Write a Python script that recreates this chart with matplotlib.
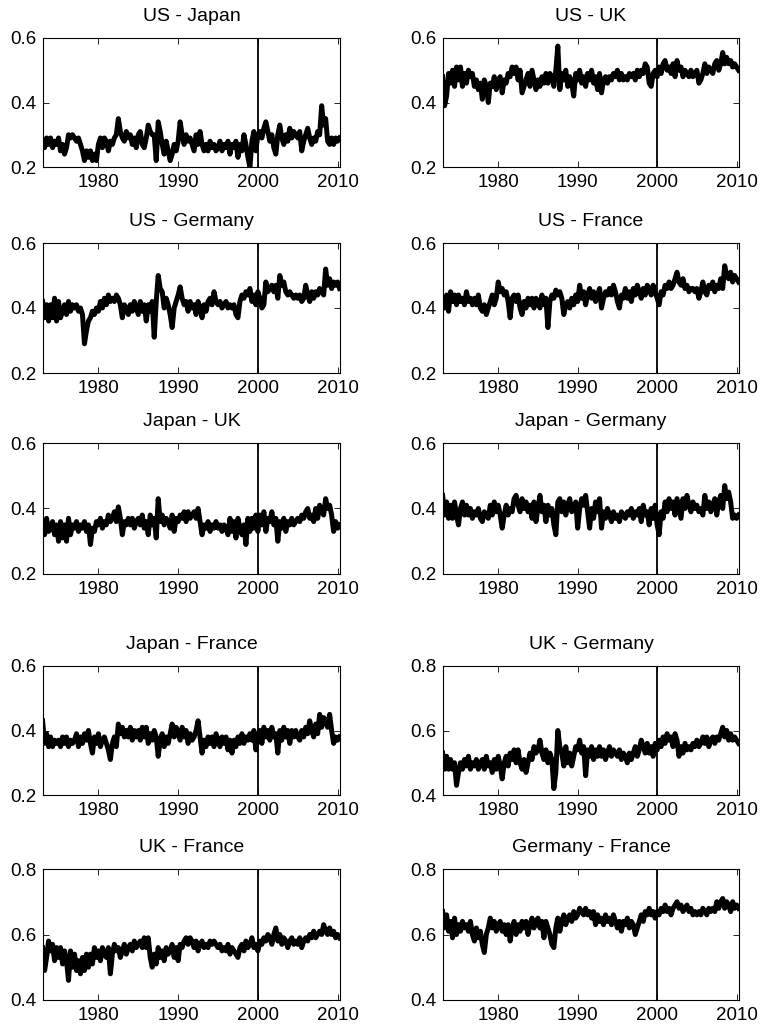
import numpy as np
import matplotlib.pyplot as plt

plt.rcParams['font.family'] = ['Liberation Sans', 'DejaVu Sans']

# quarterly correlations, 1973Q1 - 2010Q2 (four values per year)
us_japan = [.28, .26, .29, .27,  .29, .26, .28, .27,  .29, .25, .27, .24,  .26, .30, .29, .30,
            .29, .28, .29, .27,  .25, .22, .25, .23,  .25, .22, .24, .22,  .27, .29, .26, .29,
            .28, .25, .28, .27,  .29, .30, .35, .31,  .29, .28, .31, .29,  .30, .27, .29, .26,
            .30, .31, .27, .26,  .29, .33, .31, .30,  .30, .22, .34, .31,  .27, .24, .28, .25,
            .22, .24, .27, .25,  .28, .34, .30, .27,  .30, .28, .29, .27,  .25, .30, .27, .31,
            .27, .25, .27, .25,  .28, .26, .27, .25,  .26, .28, .25, .27,  .26, .28, .24, .27,
            .26, .28, .23, .27,  .25, .30, .27, .23,  .20, .28, .31, .25,  .30, .31, .29, .32,
            .34, .31, .28, .30,  .26, .24, .30, .33,  .29, .27, .30, .28,  .32, .29, .31, .30,
            .29, .31, .25, .28,  .30, .32, .29, .27,  .29, .28, .31, .30,  .39, .33, .35, .28,
            .27, .29, .27, .29,  .28, .29]

us_uk = [.48, .39, .42, .49,  .46, .50, .45, .51,  .47, .51, .45, .49,  .46, .50, .48, .49,
         .45, .47, .44, .46,  .41, .47, .45, .40,  .46, .45, .48, .44,  .47, .48, .43, .47,
         .46, .49, .48, .51,  .49, .51, .47, .50,  .43, .45, .47, .49,  .45, .50, .47, .44,
         .47, .45, .48, .46,  .49, .46, .49, .48,  .45, .50, .575, .44,  .49, .47, .50, .45,
         .48, .46, .42, .49,  .47, .50, .46, .48,  .45, .49, .47, .50,  .46, .48, .44, .49,
         .43, .47, .48, .46,  .48, .47, .49, .48,  .50, .47, .49, .47,  .48, .47, .49, .48,
         .49, .47, .50, .48,  .50, .49, .52, .51,  .46, .45, .49, .50,  .48, .51, .49, .52,
         .53, .50, .51, .49,  .52, .48, .53, .50,  .51, .48, .50, .49,  .48, .50, .48, .49,
         .50, .46, .47, .49,  .52, .49, .51, .50,  .49, .52, .53, .50,  .52, .555, .52, .54,
         .52, .53, .51, .52,  .51, .50]

us_germany = [.42, .37, .41, .36,  .41, .37, .43, .36,  .42, .37, .39, .41,  .38, .42, .39, .41,
              .40, .41, .39, .40,  .38, .29, .33, .36,  .37, .39, .38, .40,  .39, .42, .40, .43,
              .41, .44, .42, .43,  .42, .44, .43, .41,  .37, .41, .40, .38,  .41, .39, .42, .40,
              .38, .42, .39, .41,  .36, .41, .39, .42,  .31, .42, .50, .46,  .45, .40, .43, .41,
              .38, .34, .40, .42,  .44, .465, .43, .41,  .42, .39, .42, .40,  .41, .38, .42, .40,
              .37, .41, .39, .42,  .43, .41, .45, .42,  .41, .42, .40, .41,  .42, .40, .41, .40,
              .41, .38, .37, .42,  .44, .43, .45, .44,  .46, .42, .44, .41,  .45, .43, .40, .41,
              .48, .45, .46, .47,  .45, .47, .43, .50,  .47, .48, .45, .44,  .45, .44, .43, .44,
              .43, .44, .42, .43,  .47, .44, .42, .45,  .43, .45, .44, .46,  .45, .44, .52, .47,
              .49, .46, .48, .47,  .48, .46]

us_france = [.43, .40, .44, .39,  .45, .42, .44, .41,  .44, .42, .43, .41,  .45, .42, .43, .41,
             .43, .41, .44, .40,  .39, .41, .38, .40,  .42, .44, .41, .43,  .48, .45, .46, .44,
             .45, .42, .37, .43,  .44, .42, .44, .40,  .38, .42, .40, .43,  .41, .43, .40, .43,
             .42, .40, .44, .41,  .43, .34, .42, .44,  .43, .455, .44, .45,  .43, .38, .41, .42,
             .40, .43, .41, .44,  .42, .47, .43, .45,  .41, .44, .46, .43,  .45, .42, .44, .46,
             .40, .43, .45, .44,  .46, .44, .47, .45,  .42, .40, .44, .43,  .46, .43, .45, .42,
             .46, .44, .47, .45,  .43, .46, .44, .47,  .46, .44, .47, .45,  .43, .41, .45, .44,
             .47, .46, .48, .46,  .47, .49, .51, .48,  .47, .49, .46, .47,  .45, .46, .46, .45,
             .46, .43, .45, .48,  .45, .44, .47, .46,  .48, .45, .47, .46,  .49, .46, .53, .50,
             .49, .51, .48, .50,  .49, .48]

japan_uk = [.35, .32, .37, .33,  .34, .36, .32, .35,  .30, .36, .31, .35,  .30, .37, .32, .35,
            .34, .36, .33, .35,  .34, .36, .33, .35,  .29, .34, .33, .36,  .35, .37, .34, .36,
            .35, .38, .36, .37,  .39, .36, .405, .37,  .32, .36, .35, .37,  .35, .37, .34, .36,
            .37, .35, .38, .34,  .36, .32, .38, .35,  .37, .31, .43, .36,  .38, .35, .37, .36,
            .34, .38, .33, .37,  .36, .38, .37, .39,  .36, .39, .37, .38,  .39, .37, .40, .36,
            .32, .35, .34, .36,  .33, .35, .34, .36,  .34, .35, .33, .35,  .34, .32, .37, .33,
            .36, .31, .37, .34,  .32, .35, .29, .37,  .33, .37, .34, .38,  .33, .38, .35, .39,
            .33, .37, .36, .39,  .35, .37, .30, .36,  .34, .37, .33, .36,  .35, .37, .35, .36,
            .37, .36, .38, .37,  .39, .40, .37, .38,  .36, .40, .37, .41,  .39, .38, .43, .40,
            .41, .38, .33, .36,  .34, .35]

japan_germany = [.44, .38, .42, .37,  .41, .37, .42, .38,  .35, .40, .42, .38,  .41, .38, .40, .37,
                 .39, .38, .40, .37,  .36, .39, .38, .37,  .41, .38, .42, .39,  .41, .38, .34, .38,
                 .41, .38, .40, .39,  .43, .44, .41, .39,  .43, .40, .42, .39,  .41, .37, .42, .36,
                 .40, .44, .39, .41,  .36, .41, .38, .40,  .35, .32, .42, .43,  .39, .42, .38, .41,
                 .43, .39, .40, .42,  .34, .40, .43, .41,  .44, .39, .34, .40,  .37, .42, .39, .43,
                 .34, .39, .37, .40,  .38, .36, .39, .37,  .38, .36, .39, .38,  .37, .39, .38, .40,
                 .37, .39, .38, .40,  .36, .41, .38, .39,  .35, .40, .37, .41,  .35, .32, .39, .37,
                 .42, .39, .43, .40,  .42, .38, .43, .40,  .37, .43, .40, .44,  .41, .39, .42, .40,
                 .41, .39, .40, .38,  .44, .40, .42, .39,  .41, .43, .38, .42,  .44, .40, .47, .43,
                 .45, .42, .37, .38,  .37, .38]

japan_france = [.43, .36, .39, .35,  .38, .35, .37, .36,  .37, .35, .38, .36,  .38, .35, .37, .36,
                .37, .39, .35, .38,  .36, .39, .37, .40,  .36, .33, .38, .36,  .39, .35, .37, .38,
                .36, .34, .31, .36,  .38, .35, .42, .39,  .41, .38, .40, .38,  .41, .37, .40, .38,
                .40, .37, .41, .38,  .41, .36, .39, .37,  .40, .38, .32, .37,  .39, .35, .38, .36,
                .39, .42, .38, .41,  .39, .37, .41, .38,  .40, .36, .39, .37,  .38, .40, .43, .38,
                .33, .37, .35, .38,  .36, .38, .35, .39,  .37, .35, .38, .36,  .38, .34, .37, .33,
                .37, .35, .38, .36,  .39, .36, .38, .37,  .39, .37, .40, .34,  .38, .40, .36, .41,
                .38, .40, .37, .41,  .38, .39, .33, .40,  .37, .41, .38, .40,  .36, .40, .38, .40,
                .38, .37, .40, .38,  .41, .39, .43, .40,  .38, .42, .39, .45,  .41, .44, .43, .41,
                .45, .40, .36, .38,  .37, .38]

uk_germany = [.53, .48, .52, .48,  .51, .48, .50, .43,  .47, .50, .48, .51,  .49, .52, .48, .50,
              .49, .51, .48, .50,  .51, .48, .52, .49,  .50, .47, .51, .48,  .52, .49, .45, .50,
              .52, .49, .53, .51,  .54, .50, .54, .50,  .48, .51, .47, .50,  .53, .51, .55, .53,
              .54, .57, .53, .51,  .54, .50, .53, .51,  .42, .47, .60, .55,  .53, .49, .55, .50,
              .53, .49, .52, .55,  .54, .57, .53, .55,  .46, .54, .52, .55,  .51, .54, .52, .55,
              .52, .54, .51, .53,  .55, .52, .54, .53,  .52, .54, .51, .53,  .52, .50, .53, .51,
              .53, .55, .52, .54,  .57, .55, .53, .56,  .53, .55, .52, .56,  .54, .57, .55, .58,
              .56, .59, .57, .58,  .55, .59, .57, .52,  .55, .53, .56, .54,  .55, .54, .56, .55,
              .57, .55, .56, .58,  .56, .58, .55, .57,  .58, .56, .58, .57,  .59, .61, .58, .60,
              .57, .59, .57, .58,  .57, .56]

uk_france = [.56, .49, .53, .58,  .55, .57, .52, .56,  .53, .56, .51, .55,  .52, .46, .55, .50,
             .54, .49, .52, .48,  .53, .49, .54, .50,  .54, .51, .56, .53,  .55, .52, .56, .54,
             .53, .56, .48, .54,  .57, .55, .56, .53,  .55, .57, .54, .56,  .57, .55, .58, .56,
             .57, .58, .56, .59,  .56, .59, .53, .50,  .54, .51, .56, .53,  .55, .52, .56, .54,
             .55, .57, .53, .56,  .52, .57, .56, .58,  .59, .57, .59, .58,  .56, .58, .55, .57,
             .58, .56, .57, .56,  .58, .57, .58, .57,  .56, .57, .55, .56,  .55, .57, .54, .56,
             .55, .54, .53, .56,  .57, .55, .58, .56,  .57, .59, .56, .57,  .55, .58, .57, .59,
             .58, .60, .59, .57,  .60, .62, .58, .60,  .57, .59, .58, .56,  .58, .59, .57, .58,
             .57, .59, .56, .58,  .59, .58, .60, .59,  .61, .59, .60, .61,  .60, .63, .61, .60,
             .62, .60, .61, .59,  .60, .59]

germany_france = [.67, .62, .66, .61,  .64, .59, .65, .60,  .63, .61, .64, .62,  .63, .61, .64, .60,
                  .58, .62, .59, .61,  .57, .545, .60, .62,  .65, .62, .64, .61,  .63, .64, .61, .63,
                  .60, .63, .58, .62,  .64, .60, .63, .61,  .64, .62, .64, .60,  .63, .65, .62, .64,
                  .65, .62, .64, .59,  .64, .62, .60, .57,  .56, .62, .65, .61,  .64, .66, .63, .65,
                  .66, .64, .67, .65,  .66, .68, .67, .66,  .68, .66, .67, .65,  .67, .63, .66, .64,
                  .65, .63, .66, .64,  .65, .63, .66, .64,  .62, .64, .61, .64,  .63, .65, .62, .64,
                  .63, .60, .62, .64,  .66, .64, .67, .66,  .68, .66, .67, .65,  .67, .66, .68, .67,
                  .69, .67, .68, .66,  .68, .69, .70, .68,  .69, .67, .68, .69,  .67, .68, .66, .67,
                  .66, .67, .66, .68,  .67, .66, .68, .67,  .68, .67, .70, .68,  .70, .71, .68, .70,
                  .69, .67, .70, .68,  .69, .68]

titles = ['US - Japan', 'US - UK', 'US - Germany', 'US - France', 'Japan - UK',
          'Japan - Germany', 'Japan - France', 'UK - Germany', 'UK - France', 'Germany - France']
series = [us_japan, us_uk, us_germany, us_france, japan_uk,
          japan_germany, japan_france, uk_germany, uk_france, germany_france]
ylims = [(0.2, 0.6)] * 7 + [(0.4, 0.8)] * 3
xticks = [1980, 1990, 2000, 2010]

fig = plt.figure(figsize=(7.6, 10.29), dpi=100)
W, H = 760., 1029.

# axes boxes in pixels (left, top, right, bottom)
cols = [(43, 340), (443, 739)]
rows = [(38, 167), (243, 373), (443, 574), (666, 795), (869, 1000)]

for k in range(10):
    r, c = k // 2, k % 2
    x0, x1 = cols[c]
    y0, y1 = rows[r]
    ax = fig.add_axes([x0 / W, 1 - y1 / H, (x1 - x0) / W, (y1 - y0) / H])
    vals = np.array(series[k])
    t = 1973 + np.arange(len(vals)) / 4.
    ax.plot(t, vals, color='black', lw=3.6)
    ax.axvline(2000, color='black', lw=1.3)
    lo, hi = ylims[k]
    ax.set_ylim(lo, hi)
    ax.set_yticks([lo, lo + 0.2, hi])
    ax.set_yticklabels(['%.1f' % v for v in [lo, lo + 0.2, hi]])
    ax.set_xlim(1973.05, 2010.3)
    ax.set_xticks(xticks)
    ax.tick_params(direction='in', top=True, right=True, labelsize=13.5, length=4, width=0.6, pad=5)
    for s in ax.spines.values():
        s.set_linewidth(0.8)
    ax.set_title(titles[k], fontsize=14, pad=12)

plt.savefig('out.png', dpi=100)
